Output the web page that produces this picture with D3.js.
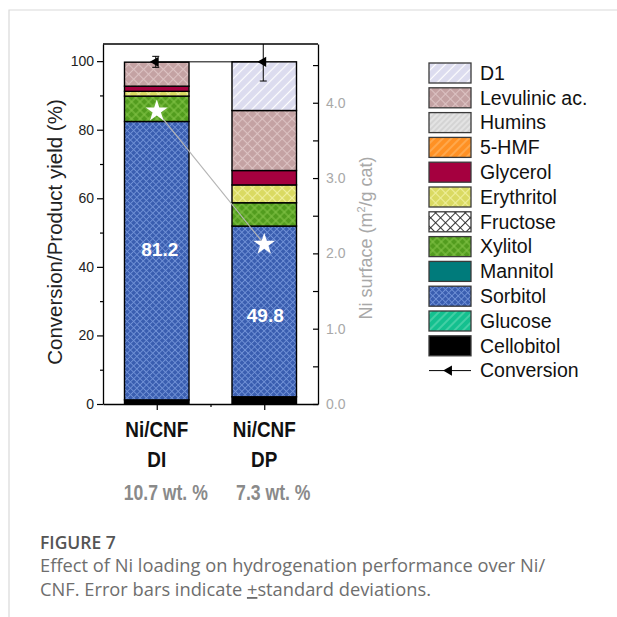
<!DOCTYPE html>
<html><head><meta charset="utf-8">
<script src="https://cdn.jsdelivr.net/npm/d3@7"></script>
<style>
html,body{margin:0;padding:0;background:#fff;}
svg{display:block;}
</style></head>
<body>
<svg id="chart" width="617" height="617"></svg>
<script>
// ---- data ----
const categories = ["DI", "DP"];
const catalystNames = ["Ni/CNF", "Ni/CNF"];
const niLoading = ["10.7 wt. %", "7.3 wt. %"];
// products, listed from the bottom of the stack upward
const products = ["Cellobitol", "Glucose", "Sorbitol", "Mannitol", "Xylitol", "Fructose",
                  "Erythritol", "Glycerol", "5-HMF", "Humins", "Levulinic ac.", "D1"];
const yieldDI = [1.2, 0, 81.2, 0, 7.4, 0, 1.4, 1.5, 0, 0, 7.0, 0];
const yieldDP = [2.1, 0, 49.8, 0, 6.8, 0, 5.2, 4.2, 0, 0, 17.5, 14.2];
const conversion = [99.8, 99.8];
const conversionSd = [1.6, 5.6];
const niSurface = [3.89, 2.12];          // m2/g cat, right axis
const yieldTicks = [0, 20, 40, 60, 80, 100];
const yieldMinorTicks = [10, 30, 50, 70, 90];
const surfaceTicks = [0, 0.5, 1, 1.5, 2, 2.5, 3, 3.5, 4, 4.5];

// ---- fill styles per product ----
const styles = {
  "D1":            {base: "#dcdcef", ink: "#ffffff", size: 7,   cross: false, lw: 1.2},
  "Levulinic ac.": {base: "#c4a2a3", ink: "#dcc3c3", size: 7,   cross: true,  lw: 1.1},
  "Humins":        {base: "#d4d4d4", ink: "#f2f2f2", size: 4,   cross: false, lw: 1},
  "5-HMF":         {base: "#ff9124", ink: "#ffb866", size: 6,   cross: false, lw: 1.2},
  "Glycerol":      {base: "#a5003f"},
  "Erythritol":    {base: "#dada62", ink: "#efef9c", size: 7,   cross: true,  lw: 1.1},
  "Fructose":      {base: "#ffffff", ink: "#222222", size: 7,   cross: true,  lw: 0.9},
  "Xylitol":       {base: "#529c1e", ink: "#82c245", size: 6,   cross: true,  lw: 1.1},
  "Mannitol":      {base: "#007b7b"},
  "Sorbitol":      {base: "#3a5eb0", ink: "#7091d6", size: 4.5, cross: true,  lw: 0.9},
  "Glucose":       {base: "#14c08f", ink: "#62dab4", size: 6,   cross: false, lw: 1.2},
  "Cellobitol":    {base: "#000000"}
};

const svg = d3.select("#chart");
const defs = svg.append("defs");
const font = "'Liberation Sans', Arial, Helvetica, sans-serif";

function fillFor(name) {
  const s = styles[name];
  if (!s.ink) return s.base;
  const id = "pat-" + products.indexOf(name);
  if (defs.select("#" + id).empty()) {
    const p = defs.append("pattern").attr("id", id)
      .attr("patternUnits", "userSpaceOnUse")
      .attr("width", s.size).attr("height", s.size)
      .attr("patternTransform", "rotate(45)");
    p.append("rect").attr("width", s.size).attr("height", s.size).attr("fill", s.base);
    p.append("line").attr("x1", s.size / 2).attr("x2", s.size / 2)
      .attr("y1", 0).attr("y2", s.size).attr("stroke", s.ink).attr("stroke-width", s.lw);
    if (s.cross) p.append("line").attr("y1", s.size / 2).attr("y2", s.size / 2)
      .attr("x1", 0).attr("x2", s.size).attr("stroke", s.ink).attr("stroke-width", s.lw);
  }
  return "url(#" + id + ")";
}

// ---- card outline ----
svg.append("path").attr("d", "M9,617V10H617").attr("fill", "none")
  .attr("stroke", "#d9d9d9").attr("stroke-width", 1.2);

// ---- scales ----
const plotL = 103, plotR = 318, plotT = 44, plotB = 404;
const x = d3.scaleLinear().domain([0.5, 2.5]).range([plotL, plotR]);
const y = d3.scaleLinear().domain([0, 105]).range([plotB, plotT]);
const yR = d3.scaleLinear().domain([0, 4.78]).range([plotB, plotT]);
const barW = x(1.3) - x(0.7);

defs.append("clipPath").attr("id", "plotClip").append("rect")
  .attr("x", plotL).attr("y", plotT).attr("width", plotR - plotL).attr("height", plotB - plotT);

// ---- stacked bars ----
const rows = categories.map((c, i) => {
  const r = {cat: c, idx: i};
  const vals = i === 0 ? yieldDI : yieldDP;
  products.forEach((p, k) => r[p] = vals[k]);
  return r;
});
const stacked = d3.stack().keys(products)(rows);

const plot = svg.append("g").attr("clip-path", "url(#plotClip)");
stacked.forEach(layer => {
  plot.selectAll(null).data(layer.filter(d => d[1] - d[0] > 0)).enter().append("rect")
    .attr("x", d => x(d.data.idx + 1) - barW / 2)
    .attr("width", barW)
    .attr("y", d => y(d[1]))
    .attr("height", d => y(d[0]) - y(d[1]))
    .attr("fill", fillFor(layer.key))
    .attr("stroke", "#000").attr("stroke-width", 1.4);
});

// sorbitol yield labels inside the blue segments
const sorbIdx = products.indexOf("Sorbitol");
const labelPos = [0.54, 0.48];
svg.append("g").selectAll("text").data(stacked[sorbIdx]).enter().append("text")
  .attr("x", (d, i) => x(i + 1) + (i === 0 ? 3 : 1))
  .attr("y", (d, i) => y(d[0] + (d[1] - d[0]) * labelPos[i]))
  .attr("dy", "0.36em")
  .attr("text-anchor", "middle")
  .attr("font-family", font).attr("font-weight", "bold").attr("font-size", 19)
  .attr("fill", "#fff")
  .text(d => d3.format(".1f")(d[1] - d[0]));

// ---- Ni surface: connecting line and stars ----
svg.append("path")
  .datum(niSurface)
  .attr("d", d3.line().x((d, i) => x(i + 1)).y(d => yR(d)))
  .attr("fill", "none").attr("stroke", "#b5b5b5").attr("stroke-width", 1.2);
svg.append("g").selectAll("path").data(niSurface).enter().append("path")
  .attr("transform", (d, i) => `translate(${x(i + 1)},${yR(d)})`)
  .attr("d", d3.symbol(d3.symbolStar, 150))
  .attr("fill", "#fff");

// ---- conversion line, error bars, markers ----
const conv = svg.append("g").attr("clip-path", "url(#plotClip)");
conv.append("path").datum(conversion)
  .attr("d", d3.line().x((d, i) => x(i + 1)).y(d => y(d)))
  .attr("fill", "none").attr("stroke", "#000").attr("stroke-width", 1);
conversion.forEach((c, i) => {
  const cx = x(i + 1) - 1;
  const lo = y(c - conversionSd[i]), hi = y(c + conversionSd[i]);
  conv.append("line").attr("x1", cx).attr("x2", cx).attr("y1", lo).attr("y2", hi)
    .attr("stroke", "#000").attr("stroke-width", 1);
  [lo, hi].forEach(v => conv.append("line").attr("x1", cx - 3.5).attr("x2", cx + 3.5)
    .attr("y1", v).attr("y2", v).attr("stroke", "#000").attr("stroke-width", 1));
  conv.append("path")
    .attr("transform", `translate(${cx},${y(c)}) rotate(-90)`)
    .attr("d", d3.symbol(d3.symbolTriangle, 45))
    .attr("fill", "#000");
});

// ---- axes ----
const axisStyle = g => {
  g.selectAll(".domain").attr("stroke", "#000").attr("stroke-width", 1.3);
  g.selectAll(".tick line").attr("stroke", "#000").attr("stroke-width", 1.2);
};
svg.append("g").attr("transform", `translate(${plotL},0)`)
  .call(d3.axisLeft(y).tickValues(yieldTicks).tickSize(6).tickPadding(3).tickSizeOuter(0))
  .call(axisStyle)
  .call(g => g.selectAll("text").attr("font-family", font).attr("font-size", 14).attr("fill", "#222"));
svg.append("g").attr("transform", `translate(${plotL},0)`)
  .call(d3.axisLeft(y).tickValues(yieldMinorTicks).tickSize(3).tickFormat("").tickSizeOuter(0))
  .call(axisStyle).call(g => g.select(".domain").remove());

svg.append("g").attr("transform", `translate(0,${plotB})`)
  .call(d3.axisBottom(x).tickValues([1, 2]).tickSize(6).tickFormat("").tickSizeOuter(0))
  .call(axisStyle);
svg.append("g").attr("transform", `translate(0,${plotB})`)
  .call(d3.axisBottom(x).tickValues([1.5]).tickSize(3).tickFormat("").tickSizeOuter(0))
  .call(axisStyle).call(g => g.select(".domain").remove());

svg.append("g").attr("transform", `translate(${plotR},0)`)
  .call(d3.axisRight(yR).tickValues(surfaceTicks).tickSize(-5).tickPadding(8).tickSizeOuter(0)
    .tickFormat(d => Number.isInteger(d) ? d3.format(".1f")(d) : ""))
  .call(axisStyle)
  .call(g => g.selectAll("text").attr("font-family", font).attr("font-size", 14).attr("fill", "#a8a8a8"));

svg.append("line").attr("x1", plotL).attr("x2", plotR).attr("y1", plotT).attr("y2", plotT)
  .attr("stroke", "#000").attr("stroke-width", 1.3);

// ---- axis titles ----
svg.append("text")
  .attr("transform", `translate(62,${(plotT + plotB) / 2 + 8}) rotate(-90)`)
  .attr("text-anchor", "middle")
  .attr("font-family", font).attr("font-size", 20.5).attr("fill", "#222")
  .text("Conversion/Product yield (%)");
const rt = svg.append("text")
  .attr("transform", `translate(372,${(plotT + plotB) / 2 + 14}) rotate(-90)`)
  .attr("text-anchor", "middle")
  .attr("font-family", font).attr("font-size", 18).attr("fill", "#a8a8a8");
rt.append("tspan").text("Ni surface (m");
rt.append("tspan").attr("font-size", 11).attr("dy", -7).text("2");
rt.append("tspan").attr("dy", 7).text("/g cat)");

// ---- category labels ----
const catG = svg.append("g").attr("font-family", font).attr("font-weight", "bold")
  .attr("text-anchor", "middle");
categories.forEach((c, i) => {
  const cx = x(i + 1);
  catG.append("text").attr("transform", `translate(${cx},437) scale(0.86,1)`)
    .attr("font-size", 22).attr("fill", "#111").text(catalystNames[i]);
  catG.append("text").attr("transform", `translate(${cx},467) scale(0.86,1)`)
    .attr("font-size", 22).attr("fill", "#111").text(c);
  catG.append("text").attr("transform", `translate(${cx + 9},500) scale(0.8,1)`)
    .attr("font-size", 22).attr("fill", "#8a8a8a").text(niLoading[i]);
});

// ---- legend ----
const legendItems = products.slice().reverse();
const lg = svg.append("g").attr("font-family", font).attr("font-size", 19.5).attr("fill", "#111");
const rowY = i => 73 + i * 24.8;
legendItems.forEach((p, i) => {
  lg.append("rect").attr("x", 429).attr("y", rowY(i) - 10).attr("width", 42).attr("height", 20)
    .attr("fill", fillFor(p)).attr("stroke", "#3a3a3a").attr("stroke-width", 1.3);
  lg.append("text").attr("x", 480).attr("y", rowY(i)).attr("dy", "0.35em").text(p);
});
{
  const cy = rowY(legendItems.length);
  lg.append("line").attr("x1", 429).attr("x2", 471).attr("y1", cy).attr("y2", cy)
    .attr("stroke", "#000").attr("stroke-width", 1);
  lg.append("path").attr("transform", `translate(449,${cy}) rotate(-90)`)
    .attr("d", d3.symbol(d3.symbolTriangle, 45)).attr("fill", "#000");
  lg.append("text").attr("x", 480).attr("y", cy).attr("dy", "0.35em").text("Conversion");
}

// ---- caption ----
const cap = svg.append("g").attr("font-family", "'Open Sans', 'Noto Sans', sans-serif");
cap.append("text").attr("x", 40).attr("y", 549).attr("font-size", 17.5)
  .attr("font-weight", 600).attr("fill", "#555").text("FIGURE 7");
cap.append("text").attr("x", 40).attr("y", 572).attr("font-size", 18.3)
  .attr("fill", "#6e6e6e").text("Effect of Ni loading on hydrogenation performance over Ni/");
const l2 = cap.append("text").attr("x", 40).attr("y", 596).attr("font-size", 18.3).attr("fill", "#6e6e6e");
l2.append("tspan").text("CNF. Error bars indicate ");
l2.append("tspan").attr("text-decoration", "underline").text("+");
l2.append("tspan").text("standard deviations.");
</script>
</body></html>
